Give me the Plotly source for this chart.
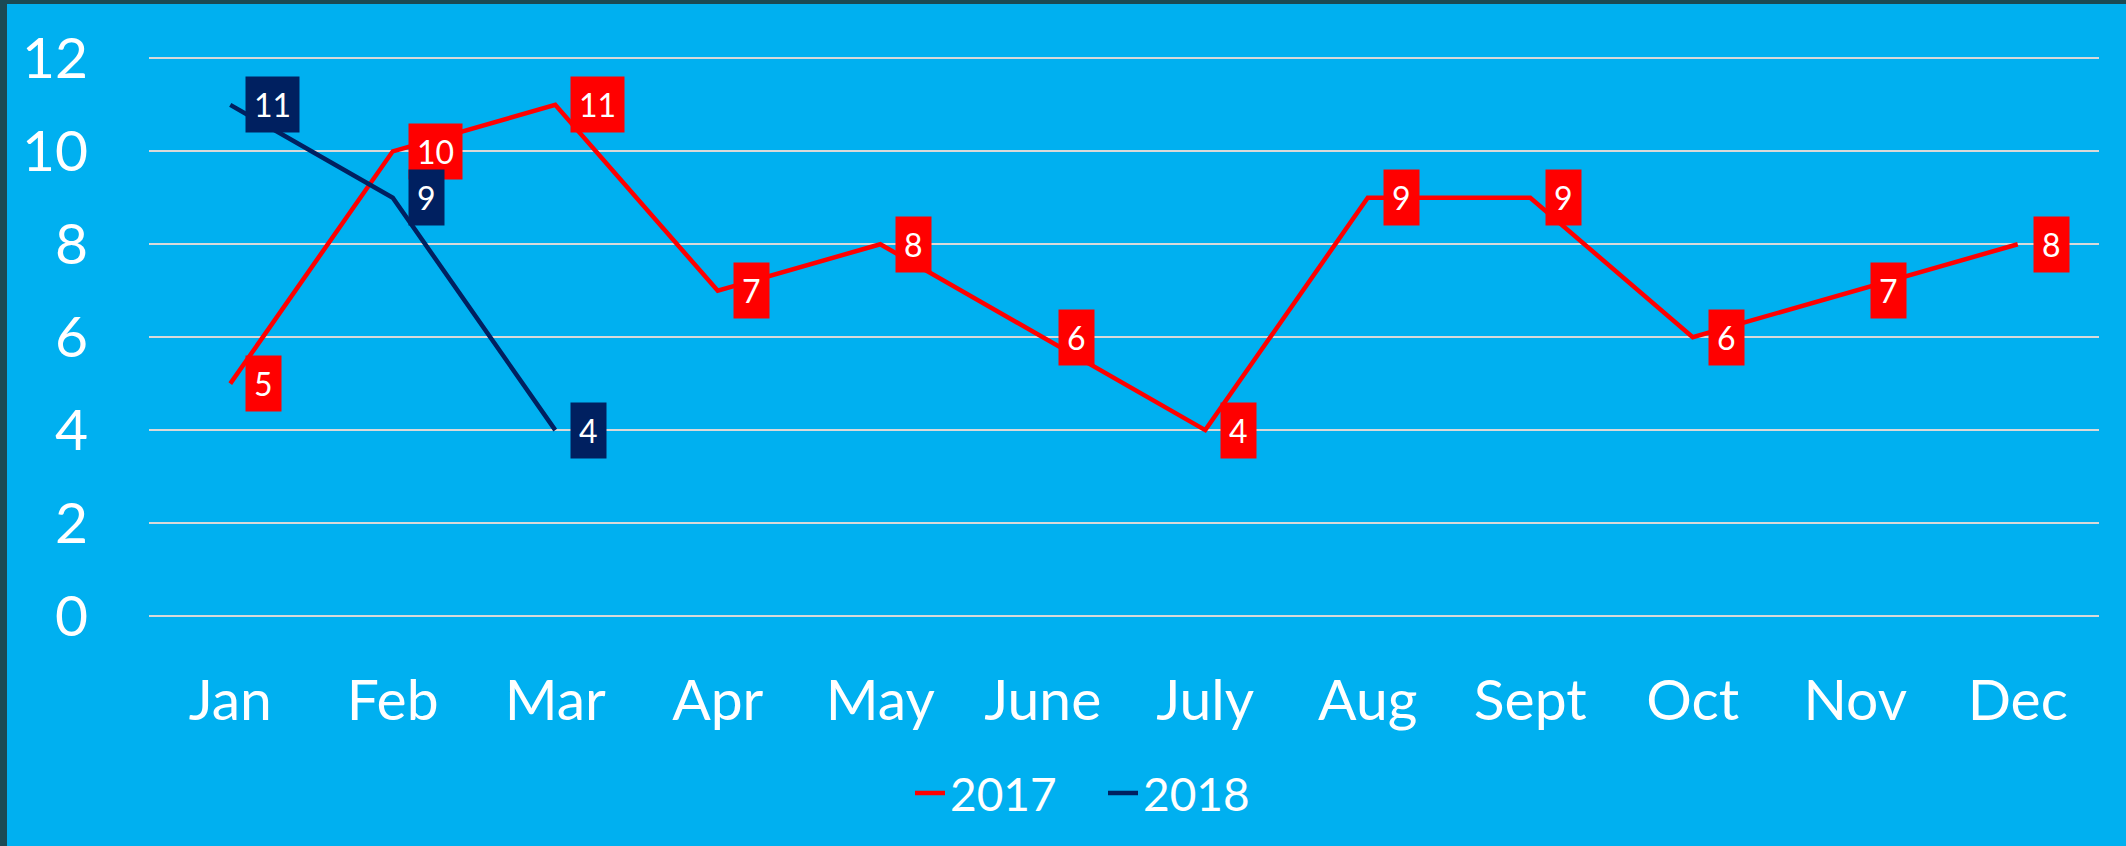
import plotly.graph_objects as go

months = ["Jan", "Feb", "Mar", "Apr", "May", "June", "July", "Aug", "Sept", "Oct", "Nov", "Dec"]
values_2017 = [5, 10, 11, 7, 8, 6, 4, 9, 9, 6, 7, 8]
months_2018 = ["Jan", "Feb", "Mar"]
values_2018 = [11, 9, 4]
y_ticks = [0, 2, 4, 6, 8, 10, 12]

RED = "#FF0000"
NAVY = "#002060"
BG = "#00B0F0"
BORDER = "#1B4A54"
GRID = "#D9D9D9"
FONT = "Lato"

W, H = 2126, 846
ML, MR, MT, MB = 149, 27, 57, 230

fig = go.Figure()
fig.add_trace(go.Scatter(x=months, y=values_2017, mode="lines", name="2017",
                         line=dict(color=RED, width=4.5)))
fig.add_trace(go.Scatter(x=months_2018, y=values_2018, mode="lines", name="2018",
                         line=dict(color=NAVY, width=4.5)))

annotations = []
for xs, ys, col in [(months, values_2017, RED), (months_2018, values_2018, NAVY)]:
    for xv, yv in zip(xs, ys):
        annotations.append(dict(x=xv, y=yv, xref="x", yref="y", text=str(yv),
                                showarrow=False, xanchor="left", yanchor="middle",
                                xshift=15, bgcolor=col, borderpad=8,
                                font=dict(family=FONT, size=32, color="white")))

shapes = [
    dict(type="rect", xref="paper", yref="paper", xsizemode="pixel", ysizemode="pixel",
         xanchor=0, yanchor=0, x0=-ML, x1=-ML + 7, y0=-MB, y1=H,
         fillcolor=BORDER, line=dict(width=0), layer="above"),
    dict(type="rect", xref="paper", yref="paper", xsizemode="pixel", ysizemode="pixel",
         xanchor=0, yanchor=1, x0=-ML, x1=W, y0=MT - 4, y1=MT + 10,
         fillcolor=BORDER, line=dict(width=0), layer="above"),
]

fig.update_layout(
    width=W, height=H,
    margin=dict(l=ML, r=MR, t=MT, b=MB, pad=0, autoexpand=False),
    paper_bgcolor=BG, plot_bgcolor=BG,
    font=dict(family=FONT, color="white"),
    showlegend=True,
    legend=dict(orientation="h", x=(910 - ML) / (W - ML - MR), xanchor="left",
                y=-0.317, yanchor="middle",
                font=dict(family=FONT, size=46, color="white"),
                bgcolor="rgba(0,0,0,0)", entrywidth=148, entrywidthmode="pixels"),
    annotations=annotations,
    shapes=shapes,
)
fig.update_xaxes(type="category", categoryorder="array", categoryarray=months,
                 range=[-0.5, len(months) - 0.5], showgrid=False, zeroline=False,
                 showline=False, ticks="", tickfont=dict(family=FONT, size=57, color="white"),
                 ticklabelstandoff=46)
fig.update_yaxes(range=[0, 12.03], tickvals=y_ticks, showgrid=True, gridcolor=GRID,
                 gridwidth=1.5, zeroline=True, zerolinecolor=GRID, zerolinewidth=1.5,
                 showline=False, ticks="",
                 tickfont=dict(family=FONT, size=57, color="white"),
                 ticklabelstandoff=60)

fig.write_html("out.html", config={"displayModeBar": False},
               post_script="document.body.style.margin='0';document.body.style.padding='0';"
                           "document.body.style.overflow='hidden';")
